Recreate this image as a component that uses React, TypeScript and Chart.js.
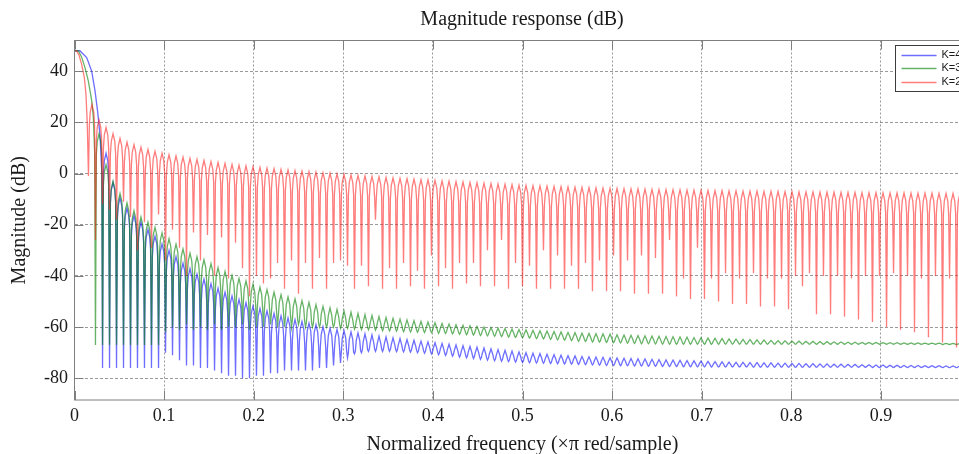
import React, { useEffect, useRef } from "react";
import { Chart, registerables } from "chart.js";

Chart.register(...registerables);

// ---------------- data ----------------
// notch (null) frequencies of the side-lobe grid, k = 2 .. 127 (k/128, ×π rad/sample)
const FIRST_NOTCH_K = 2;
const notchFreqs = [
  0.0156, 0.0234, 0.0313, 0.0391, 0.0469, 0.0547, 0.0625, 0.0703, 0.0781, 0.0859,
  0.0938, 0.1016, 0.1094, 0.1172, 0.125, 0.1328, 0.1406, 0.1484, 0.1563, 0.1641,
  0.1719, 0.1797, 0.1875, 0.1953, 0.2031, 0.2109, 0.2188, 0.2266, 0.2344, 0.2422,
  0.25, 0.2578, 0.2656, 0.2734, 0.2813, 0.2891, 0.2969, 0.3047, 0.3125, 0.3203,
  0.3281, 0.3359, 0.3438, 0.3516, 0.3594, 0.3672, 0.375, 0.3828, 0.3906, 0.3984,
  0.4063, 0.4141, 0.4219, 0.4297, 0.4375, 0.4453, 0.4531, 0.4609, 0.4688, 0.4766,
  0.4844, 0.4922, 0.5, 0.5078, 0.5156, 0.5234, 0.5313, 0.5391, 0.5469, 0.5547,
  0.5625, 0.5703, 0.5781, 0.5859, 0.5938, 0.6016, 0.6094, 0.6172, 0.625, 0.6328,
  0.6406, 0.6484, 0.6563, 0.6641, 0.6719, 0.6797, 0.6875, 0.6953, 0.7031, 0.7109,
  0.7188, 0.7266, 0.7344, 0.7422, 0.75, 0.7578, 0.7656, 0.7734, 0.7813, 0.7891,
  0.7969, 0.8047, 0.8125, 0.8203, 0.8281, 0.8359, 0.8438, 0.8516, 0.8594, 0.8672,
  0.875, 0.8828, 0.8906, 0.8984, 0.9063, 0.9141, 0.9219, 0.9297, 0.9375, 0.9453,
  0.9531, 0.9609, 0.9688, 0.9766, 0.9844, 0.9922,
];

const xTicks = [0, 0.1, 0.2, 0.3, 0.4, 0.5, 0.6, 0.7, 0.8, 0.9];
const yTicks = [-80, -60, -40, -20, 0, 20, 40];

// ---- K=4 (blue) ----
const k4MainFreq = [0, 0.006, 0.0136, 0.0192, 0.0229, 0.0259, 0.0285, 0.0305];
const k4MainDb = [48, 48, 45.3, 40, 32.3, 24, 15, 0];
const k4FirstK = 4;
const k4Peaks = [
  8, -3.5, -9.5, -13.5, -16.5, -19, -21.8, -24.5, -27.5, -30,
  -32.5, -35, -37.2, -39.3, -41.3, -43, -44.8, -46.4, -47.8, -49.2,
  -50.5, -51.7, -52.7, -53.7, -54.7, -55.6, -56.4, -57.1, -57.8, -58.5,
  -59.1, -59.8, -60.4, -60.9, -61.4, -61.9, -62.3, -62.7, -63.1, -63.5,
  -63.9, -64.2, -64.5, -64.9, -65.2, -65.5, -65.8, -66.1, -66.4, -66.7,
  -67, -67.3, -67.6, -67.9, -68.2, -68.5, -68.8, -69.1, -69.4, -69.7,
  -70, -70.2, -70.4, -70.6, -70.8, -71, -71.2, -71.3, -71.5, -71.6,
  -71.7, -71.8, -72, -72.1, -72.2, -72.3, -72.4, -72.5, -72.6, -72.7,
  -72.8, -72.9, -73, -73.1, -73.2, -73.3, -73.4, -73.5, -73.6, -73.7,
  -73.8, -73.8, -73.9, -73.9, -74, -74, -74.1, -74.1, -74.2, -74.2,
  -74.3, -74.3, -74.4, -74.4, -74.5, -74.5, -74.6, -74.6, -74.7, -74.7,
  -74.8, -74.8, -74.9, -74.9, -75, -75, -75, -75.1, -75.1, -75.1,
  -75.2, -75.2, -75.2,
];
const k4Notches = [
  -76, -76, -76, -76, -76, -76, -76, -76, -76, -70,
  -71, -73, -75, -75, -76, -76, -77, -78, -79, -79,
  -80, -80, -79, -79, -78, -78, -77, -77, -77, -77,
  -77, -76, -76, -75, -74, -72, -70.5, -70, -69.5, -69.5,
  -69.5, -69.5, -69.6, -69.7, -69.8, -70, -70.2, -70.5, -70.8, -71.1,
  -71.4, -71.7, -72, -72.3, -72.6, -72.9, -73.1, -73.3, -73.5, -73.7,
  -73.8, -73.9, -74, -74.1, -74.2, -74.3, -74.4, -74.5, -74.6, -74.7,
  -74.8, -74.9, -75, -75, -75.1, -75.1, -75.2, -75.2, -75.3, -75.3,
  -75.4, -75.4, -75.4, -75.5, -75.5, -75.5, -75.5, -75.6, -75.6, -75.6,
  -75.6, -75.6, -75.6, -75.7, -75.7, -75.7, -75.7, -75.7, -75.7, -75.7,
  -75.7, -75.7, -75.7, -75.7, -75.7, -75.7, -75.7, -75.7, -75.7, -75.7,
  -75.8, -75.8, -75.8, -75.8, -75.8, -75.8, -75.8, -75.8, -75.8, -75.8,
  -75.8, -75.8, -75.8,
];

// ---- K=3 (green) ----
const k3MainFreq = [0, 0.0043, 0.008, 0.0117, 0.0154, 0.0192, 0.021, 0.0225];
const k3MainDb = [48, 48, 45.5, 41.4, 36.2, 28.5, 22, 8];
const k3FirstK = 3;
const k3Peaks = [
  15.5, 3.5, -3, -7.8, -11.5, -14.5, -17, -19, -21, -23.2,
  -25.5, -27.6, -29.5, -31.1, -32.5, -33.7, -35.2, -36.8, -38.3, -39.8,
  -41.0, -42.0, -43.2, -44.4, -45.4, -46.4, -47.3, -48.2, -49.0, -49.7,
  -50.4, -51.2, -51.9, -52.5, -53.1, -53.7, -54.2, -54.7, -55.1, -55.5,
  -55.9, -56.3, -56.6, -56.9, -57.2, -57.5, -57.8, -58.0, -58.3, -58.6,
  -58.8, -59.1, -59.3, -59.5, -59.8, -60.0, -60.2, -60.4, -60.6, -60.8,
  -61.0, -61.1, -61.3, -61.5, -61.6, -61.8, -61.9, -62.1, -62.2, -62.4,
  -62.5, -62.6, -62.7, -62.8, -63.0, -63.1, -63.2, -63.3, -63.4, -63.5,
  -63.6, -63.7, -63.8, -63.9, -64.0, -64.1, -64.2, -64.3, -64.4, -64.5,
  -64.6, -64.7, -64.8, -64.9, -65.0, -65.1, -65.2, -65.3, -65.4, -65.5,
  -65.5, -65.6, -65.6, -65.7, -65.7, -65.8, -65.8, -65.9, -65.9, -66.0,
  -66.0, -66.0, -66.1, -66.1, -66.1, -66.2, -66.2, -66.2, -66.3, -66.3,
  -66.3, -66.4, -66.4, -66.4,
];
const k3Notches = [
  -67, -67, -67, -67, -67, -67, -67, -67, -67, -67,
  -62, -60, -61, -59, -61, -60, -61, -59, -61, -60,
  -60, -59, -61, -60, -60, -59, -60, -60, -60, -59,
  -60, -60, -60, -60, -60, -60.5, -60.5, -60.8, -61, -61,
  -61.2, -61.4, -61.5, -61.6, -61.8, -61.9, -62, -62.1, -62.2, -62.4,
  -62.5, -62.7, -62.8, -63, -63.1, -63.3, -63.4, -63.6, -63.7, -63.9,
  -64, -64.1, -64.3, -64.5, -64.6, -64.8, -65, -65.1, -65.3, -65.5,
  -65.6, -65.8, -65.9, -66, -66.1, -66.2, -66.3, -66.4, -66.5, -66.5,
  -66.6, -66.7, -66.7, -66.7, -66.7, -66.7, -66.7, -66.7, -66.7, -66.7,
  -66.7, -66.7, -66.7, -66.7, -66.7, -66.7, -66.7, -66.7, -66.7, -66.7,
  -66.7, -66.7, -66.7, -66.7, -66.7, -66.7, -66.7, -66.7, -66.7, -66.7,
  -66.7, -66.7, -66.7, -66.7, -66.7, -66.7, -66.7, -66.7, -66.7, -66.7,
  -66.7, -66.8, -66.8, -66.8,
];

// ---- K=2 (red) ----
const k2MainFreq = [0, 0.0025, 0.005, 0.008, 0.011, 0.0128, 0.0142];
const k2MainDb = [48, 47.9, 46.3, 42.7, 37.5, 31, 20];
const k2FirstK = 2;
const k2Peaks = [
  27, 21, 18, 15.6, 13.7, 12.3, 11.3, 10.3, 9.4, 8.7,
  8.0, 7.4, 6.9, 6.4, 5.9, 5.5, 5.1, 4.7, 4.3, 4.0,
  3.6, 3.3, 3.0, 2.7, 2.4, 2.1, 1.9, 1.6, 1.4, 1.1,
  0.9, 0.7, 0.5, 0.3, 0.1, -0.1, -0.3, -0.5, -0.7, -0.9,
  -1.1, -1.3, -1.5, -1.7, -1.9, -2.0, -2.2, -2.4, -2.5, -2.7,
  -2.9, -3.0, -3.2, -3.3, -3.5, -3.6, -3.8, -3.9, -4.1, -4.2,
  -4.3, -4.5, -4.6, -4.7, -4.8, -4.9, -5.0, -5.1, -5.2, -5.3,
  -5.4, -5.5, -5.6, -5.7, -5.8, -5.85, -5.9, -6.0, -6.05, -6.1,
  -6.2, -6.25, -6.3, -6.35, -6.4, -6.45, -6.5, -6.55, -6.6, -6.65,
  -6.7, -6.75, -6.8, -6.85, -6.9, -6.9, -6.95, -7.0, -7.0, -7.05,
  -7.1, -7.15, -7.2, -7.2, -7.25, -7.3, -7.3, -7.35, -7.4, -7.4,
  -7.45, -7.5, -7.5, -7.55, -7.55, -7.6, -7.6, -7.65, -7.65, -7.7,
  -7.7, -7.75, -7.75, -7.8, -7.8,
];
const k2Notches = [
  -1, -26, -12, -14, -18, -11, -17, -30, -19, -29,
  -16, -34, -22, -29, -40, -23, -34, -24, -40, -25,
  -41, -27, -37, -48, -40, -43, -41, -35, -45, -34,
  -47, -35, -45, -33, -45, -35, -34, -36, -45, -36,
  -44, -18, -45, -37, -45, -35, -44, -38, -45, -32,
  -44, -37, -45, -35, -43, -35, -44, -30, -44, -26,
  -45, -35, -44, -36, -45, -30, -45, -32, -45, -36,
  -45, -35, -46, -34, -46, -32, -46, -34, -47, -32,
  -47, -33, -47, -26, -48, -41, -49, -29, -49, -41,
  -50, -39, -51, -41, -51, -39, -52, -41, -52, -41,
  -53, -40, -44, -39, -55, -40, -55, -40, -56, -41,
  -57, -40, -58, -40, -60, -39, -61, -40, -62, -41,
  -64, -40, -66, -41, -68,
];

const seriesLabels = ["K=4", "K=3", "K=2"];

// ---------------- styling ----------------
const SERIF = "'Liberation Serif', 'Times New Roman', serif";
const SANS = "'Liberation Sans', Arial, sans-serif";
const TEXT = "#1a1a1a";
const GRID = "rgba(120,120,120,0.75)";
const FRAME = "#7f7f7f";
const COLORS = {
  k4: "rgba(20,20,255,0.62)",
  k3: "rgba(0,128,0,0.6)",
  k2: "rgba(255,30,30,0.58)",
};
const LINE_W = 1.3;
const CANVAS_W = 1044;
const CANVAS_H = 470;
const TICK_LEN = 9;

// shape of one side lobe between two nulls (fractions of the lobe, dB drops)
const LOBE_SHAPE = { edge: 0.125, shoulder: 0.25, edgeDrop: 8, shoulderDrop: 3 };

type Pt = { x: number; y: number };

function buildSeries(
  mainF: number[],
  mainDb: number[],
  firstK: number,
  peaks: number[],
  notches: number[]
): Pt[] {
  const pts: Pt[] = mainF.map((f, i) => ({ x: f, y: mainDb[i] }));
  for (let j = 0; j < peaks.length; j++) {
    const idx = firstK - FIRST_NOTCH_K + j;
    const f0 = notchFreqs[idx];
    const f1 = notchFreqs[idx + 1];
    const T = f1 - f0;
    const p = peaks[j];
    const n = notches[j];
    const d = Math.max(p - n, 0);
    const a = Math.min(LOBE_SHAPE.edgeDrop, 0.85 * d);
    const b = Math.min(LOBE_SHAPE.shoulderDrop, 0.5 * d);
    pts.push(
      { x: f0, y: n },
      { x: f0 + T * LOBE_SHAPE.edge, y: p - a },
      { x: f0 + T * LOBE_SHAPE.shoulder, y: p - b },
      { x: f0 + T * 0.5, y: p },
      { x: f0 + T * (1 - LOBE_SHAPE.shoulder), y: p - b },
      { x: f0 + T * (1 - LOBE_SHAPE.edge), y: p - a }
    );
  }
  const lastIdx = firstK - FIRST_NOTCH_K + peaks.length;
  pts.push({ x: notchFreqs[lastIdx], y: notches[notches.length - 1] });
  return pts;
}

const framePlugin = {
  id: "matlabFrame",
  afterDatasetsDraw(chart: any) {
    const { ctx, chartArea: a, scales } = chart;
    ctx.save();
    ctx.strokeStyle = FRAME;
    ctx.lineWidth = 1;
    ctx.setLineDash([]);
    ctx.strokeRect(a.left, a.top, a.right - a.left, a.bottom - a.top);
    ctx.beginPath();
    xTicks.forEach((v) => {
      const px = Math.round(scales.x.getPixelForValue(v)) + 0.5;
      ctx.moveTo(px, a.bottom);
      ctx.lineTo(px, a.bottom - TICK_LEN);
      ctx.moveTo(px, a.top);
      ctx.lineTo(px, a.top + TICK_LEN);
    });
    yTicks.forEach((v) => {
      const py = Math.round(scales.y.getPixelForValue(v)) + 0.5;
      ctx.moveTo(a.left, py);
      ctx.lineTo(a.left + TICK_LEN, py);
    });
    ctx.stroke();
    ctx.restore();
  },
};

const legendPlugin = {
  id: "insideLegend",
  afterDraw(chart: any) {
    const { ctx, chartArea: a } = chart;
    const x0 = Math.round(a.right - 76) + 0.5;
    const y0 = Math.round(a.top + 4) + 0.5;
    const w = 72;
    const h = 46;
    ctx.save();
    ctx.fillStyle = "#ffffff";
    ctx.fillRect(x0, y0, w, h);
    ctx.strokeStyle = "#3c3c3c";
    ctx.lineWidth = 1;
    ctx.strokeRect(x0, y0, w, h);
    ctx.font = `11px ${SANS}`;
    ctx.textBaseline = "middle";
    ctx.textAlign = "left";
    seriesLabels.forEach((label, i) => {
      const ds = chart.data.datasets.find((d: any) => d.label === label);
      const y = y0 + 9 + i * 13.8;
      ctx.strokeStyle = ds ? ds.borderColor : "#000";
      ctx.lineWidth = LINE_W;
      ctx.beginPath();
      ctx.moveTo(x0 + 6, Math.round(y) + 0.5);
      ctx.lineTo(x0 + 41, Math.round(y) + 0.5);
      ctx.stroke();
      ctx.fillStyle = TEXT;
      ctx.fillText(label, x0 + 46, y);
    });
    ctx.restore();
  },
};

export default function App() {
  const canvasRef = useRef<HTMLCanvasElement | null>(null);

  useEffect(() => {
    if (!canvasRef.current) return;
    const chart = new Chart(canvasRef.current, {
      type: "line",
      data: {
        datasets: [
          {
            label: "K=4",
            data: buildSeries(k4MainFreq, k4MainDb, k4FirstK, k4Peaks, k4Notches),
            borderColor: COLORS.k4,
            order: 3,
          },
          {
            label: "K=3",
            data: buildSeries(k3MainFreq, k3MainDb, k3FirstK, k3Peaks, k3Notches),
            borderColor: COLORS.k3,
            order: 2,
          },
          {
            label: "K=2",
            data: buildSeries(k2MainFreq, k2MainDb, k2FirstK, k2Peaks, k2Notches),
            borderColor: COLORS.k2,
            order: 1,
          },
        ] as any,
      },
      options: {
        animation: false,
        responsive: false,
        devicePixelRatio: 1,
        normalized: true,
        events: [],
        elements: {
          line: { borderWidth: LINE_W, tension: 0, fill: false },
          point: { radius: 0, hoverRadius: 0 },
        },
        layout: { padding: 0 },
        plugins: {
          legend: { display: false },
          tooltip: { enabled: false },
          title: {
            display: true,
            text: "Magnitude response (dB)",
            color: TEXT,
            font: { family: SERIF, size: 20, weight: "normal" },
            padding: { top: 8, bottom: 8.5 },
          },
        },
        scales: {
          x: {
            type: "linear",
            min: 0,
            max: 1,
            afterBuildTicks: (s: any) => {
              s.ticks = xTicks.map((v) => ({ value: v }));
            },
            afterFit: (s: any) => {
              s.height = CANVAS_H - 400;
            },
            ticks: {
              autoSkip: false,
              maxRotation: 0,
              padding: 5,
              color: TEXT,
              font: { family: SERIF, size: 18 },
              callback: (v: any) => String(v),
            },
            grid: { color: GRID, lineWidth: 1, drawTicks: false },
            border: { display: false, dash: [2, 2] },
            title: {
              display: true,
              text: "Normalized frequency (×π red/sample)",
              color: TEXT,
              font: { family: SERIF, size: 20 },
              padding: { top: 0, bottom: 13.7 },
            },
          },
          y: {
            type: "linear",
            position: "left",
            min: -88.5,
            max: 52,
            afterBuildTicks: (s: any) => {
              s.ticks = yTicks.map((v) => ({ value: v }));
            },
            afterFit: (s: any) => {
              s.width = 74.5;
            },
            ticks: {
              padding: 6.5,
              color: TEXT,
              font: { family: SERIF, size: 18 },
              callback: (v: any) => String(v),
            },
            grid: { color: GRID, lineWidth: 1, drawTicks: false },
            border: { display: false, dash: [3, 2] },
            title: {
              display: true,
              text: "Magnitude (dB)",
              color: TEXT,
              font: { family: SERIF, size: 20 },
              padding: { top: 8, bottom: 0 },
            },
          },
          y2: {
            type: "linear",
            position: "right",
            display: true,
            afterFit: (s: any) => {
              s.width = CANVAS_W - 970.5;
            },
            ticks: { display: false },
            grid: { display: false, drawTicks: false },
            border: { display: false },
          },
        },
      } as any,
      plugins: [framePlugin, legendPlugin],
    });
    return () => chart.destroy();
  }, []);

  return (
    <div
      style={{
        position: "fixed",
        left: 0,
        top: 0,
        width: 959,
        height: 454,
        overflow: "hidden",
        background: "#ffffff",
      }}
    >
      <canvas
        ref={canvasRef}
        width={CANVAS_W}
        height={CANVAS_H}
        style={{ display: "block", width: CANVAS_W, height: CANVAS_H }}
      />
    </div>
  );
}
